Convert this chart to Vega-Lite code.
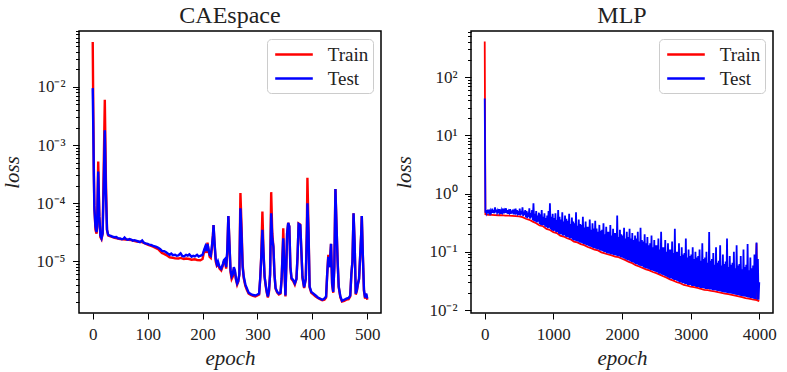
{
  "$schema": "https://vega.github.io/schema/vega-lite/v6.json",
  "background": "white",
  "padding": {"left": 0, "top": 2, "right": 2, "bottom": 2},
  "config": {
    "font": "Liberation Serif",
    "view": {"stroke": "black", "strokeWidth": 1.5},
    "axis": {
      "domain": false, "grid": false, "tickColor": "black", "tickWidth": 1,
      "labelColor": "#222222", "labelFont": "Liberation Serif", "labelFontSize": 17,
      "titleFont": "Liberation Serif", "titleFontStyle": "italic", "titleFontWeight": "normal",
      "titleFontSize": 21, "titleColor": "#222222"
    },
    "axisY": {"labelPadding": 7.5, "titlePadding": 14},
    "axisX": {"labelPadding": 7, "titlePadding": 5, "format": "d"},
    "title": {"font": "Liberation Serif", "fontSize": 24, "fontWeight": "normal", "color": "#222222", "offset": 3},
    "legend": {
      "orient": "top-right", "offset": 8, "title": null,
      "symbolType": "M-0.73,0H3.03", "symbolSize": 400, "symbolStrokeWidth": 2.5,
      "labelFont": "Liberation Serif", "labelFontSize": 19, "labelColor": "#222222", "labelOffset": 33.7,
      "padding": 4, "rowPadding": 2, "strokeColor": "#cccccc", "cornerRadius": 4, "fillColor": "white"
    },
    "concat": {"spacing": 11}
  },
  "datasets": {
    "cae_train": [
      {"epoch":0,"loss":0.059},{"epoch":1,"loss":0.004},{"epoch":2,"loss":0.0004},{"epoch":3,"loss":9e-5},{"epoch":5,"loss":3.5e-5},{"epoch":7,"loss":3e-5},{"epoch":8,"loss":4e-5},{"epoch":10,"loss":5.2e-4},{"epoch":12,"loss":6e-5},{"epoch":14,"loss":2.6e-5},{"epoch":16,"loss":2.4e-5},{"epoch":18,"loss":3e-5},{"epoch":20,"loss":4e-4},{"epoch":22,"loss":6e-3},{"epoch":24,"loss":2.5e-4},{"epoch":26,"loss":3.5e-5},{"epoch":28,"loss":2.8e-5},{"epoch":30,"loss":2.75e-5},{"epoch":40,"loss":2.55e-5},{"epoch":50,"loss":2.42e-5},{"epoch":60,"loss":2.38e-5},{"epoch":70,"loss":2.32e-5},{"epoch":80,"loss":2.2e-5},{"epoch":90,"loss":2.15e-5},{"epoch":100,"loss":1.95e-5},{"epoch":110,"loss":1.8e-5},{"epoch":120,"loss":1.6e-5},{"epoch":126,"loss":1.4e-5},{"epoch":130,"loss":1.35e-5},{"epoch":136,"loss":1.25e-5},{"epoch":140,"loss":1.18e-5},{"epoch":146,"loss":1.15e-5},{"epoch":150,"loss":1.13e-5},{"epoch":156,"loss":1.12e-5},{"epoch":160,"loss":1.15e-5},{"epoch":166,"loss":1.1e-5},{"epoch":170,"loss":1.12e-5},{"epoch":176,"loss":1.1e-5},{"epoch":180,"loss":1.07e-5},{"epoch":186,"loss":1.09e-5},{"epoch":190,"loss":1.06e-5},{"epoch":196,"loss":1.05e-5},{"epoch":200,"loss":1.1e-5},{"epoch":203,"loss":1.5e-5},{"epoch":205,"loss":1.7e-5},{"epoch":207,"loss":1.4e-5},{"epoch":209,"loss":2.1e-5},{"epoch":211,"loss":1.5e-5},{"epoch":213,"loss":1.2e-5},{"epoch":215,"loss":1.15e-5},{"epoch":217,"loss":1.7e-5},{"epoch":219,"loss":2.9e-5},{"epoch":220,"loss":4.2e-5},{"epoch":222,"loss":1.9e-5},{"epoch":224,"loss":1e-5},{"epoch":226,"loss":8.5e-6},{"epoch":228,"loss":9e-6},{"epoch":231,"loss":7.5e-6},{"epoch":234,"loss":7e-6},{"epoch":237,"loss":8.5e-6},{"epoch":239,"loss":1e-5},{"epoch":241,"loss":1.05e-5},{"epoch":243,"loss":7.5e-6},{"epoch":245,"loss":1.4e-5},{"epoch":247,"loss":6e-5},{"epoch":249,"loss":2e-5},{"epoch":251,"loss":6.5e-6},{"epoch":253,"loss":5e-6},{"epoch":255,"loss":5.5e-6},{"epoch":257,"loss":7.5e-6},{"epoch":259,"loss":6.5e-6},{"epoch":261,"loss":4.8e-6},{"epoch":263,"loss":4e-6},{"epoch":265,"loss":4.5e-6},{"epoch":267,"loss":6e-6},{"epoch":269,"loss":1.5e-4},{"epoch":271,"loss":4e-5},{"epoch":273,"loss":9e-6},{"epoch":275,"loss":5.2e-6},{"epoch":278,"loss":3.8e-6},{"epoch":281,"loss":3.2e-6},{"epoch":284,"loss":2.8e-6},{"epoch":288,"loss":2.65e-6},{"epoch":292,"loss":2.55e-6},{"epoch":296,"loss":2.5e-6},{"epoch":300,"loss":2.6e-6},{"epoch":303,"loss":2.7e-6},{"epoch":305,"loss":5e-6},{"epoch":307,"loss":1.3e-5},{"epoch":309,"loss":7.2e-5},{"epoch":311,"loss":1.5e-5},{"epoch":313,"loss":5.5e-6},{"epoch":315,"loss":3.8e-6},{"epoch":317,"loss":2.9e-6},{"epoch":319,"loss":2.4e-6},{"epoch":321,"loss":3e-6},{"epoch":323,"loss":6e-6},{"epoch":325,"loss":1.55e-4},{"epoch":327,"loss":3e-5},{"epoch":329,"loss":1.8e-5},{"epoch":331,"loss":6e-6},{"epoch":333,"loss":3.4e-6},{"epoch":336,"loss":2.9e-6},{"epoch":339,"loss":2.7e-6},{"epoch":342,"loss":2.8e-6},{"epoch":344,"loss":5e-6},{"epoch":346,"loss":1.6e-5},{"epoch":347,"loss":3.7e-5},{"epoch":349,"loss":8e-6},{"epoch":351,"loss":2.5e-6},{"epoch":353,"loss":1.2e-5},{"epoch":354,"loss":3e-5},{"epoch":356,"loss":4.6e-5},{"epoch":358,"loss":4e-5},{"epoch":360,"loss":8e-6},{"epoch":362,"loss":5e-6},{"epoch":365,"loss":4.6e-6},{"epoch":368,"loss":4e-6},{"epoch":371,"loss":5e-6},{"epoch":373,"loss":1.2e-5},{"epoch":375,"loss":4.5e-5},{"epoch":378,"loss":4.3e-5},{"epoch":380,"loss":1.5e-5},{"epoch":382,"loss":5.2e-6},{"epoch":385,"loss":3.5e-6},{"epoch":388,"loss":5e-6},{"epoch":390,"loss":4e-5},{"epoch":391,"loss":2.75e-4},{"epoch":393,"loss":3.5e-5},{"epoch":395,"loss":3.6e-6},{"epoch":398,"loss":2.9e-6},{"epoch":402,"loss":2.7e-6},{"epoch":406,"loss":2.5e-6},{"epoch":410,"loss":2.35e-6},{"epoch":414,"loss":2.25e-6},{"epoch":418,"loss":2.15e-6},{"epoch":422,"loss":2.2e-6},{"epoch":425,"loss":2.4e-6},{"epoch":427,"loss":6e-6},{"epoch":429,"loss":1.3e-5},{"epoch":431,"loss":8e-6},{"epoch":433,"loss":1.4e-5},{"epoch":434,"loss":2e-5},{"epoch":436,"loss":4e-6},{"epoch":438,"loss":2.9e-6},{"epoch":440,"loss":8e-6},{"epoch":442,"loss":1.75e-4},{"epoch":444,"loss":4e-5},{"epoch":446,"loss":1e-5},{"epoch":448,"loss":3.6e-6},{"epoch":451,"loss":2.4e-6},{"epoch":454,"loss":2.05e-6},{"epoch":458,"loss":2.1e-6},{"epoch":462,"loss":2.2e-6},{"epoch":466,"loss":2.25e-6},{"epoch":469,"loss":2.5e-6},{"epoch":471,"loss":6e-6},{"epoch":473,"loss":1e-5},{"epoch":475,"loss":6.7e-5},{"epoch":477,"loss":2e-5},{"epoch":479,"loss":2.7e-6},{"epoch":481,"loss":3.1e-6},{"epoch":483,"loss":4e-6},{"epoch":485,"loss":5e-6},{"epoch":487,"loss":1.2e-5},{"epoch":489,"loss":3e-5},{"epoch":490,"loss":6e-5},{"epoch":492,"loss":1.2e-5},{"epoch":494,"loss":3.1e-6},{"epoch":496,"loss":2.3e-6},{"epoch":498,"loss":2.7e-6},{"epoch":500,"loss":2.2e-6}
    ],
    "cae_test": [
      {"epoch":0,"loss":0.0095},{"epoch":1,"loss":0.002},{"epoch":2,"loss":0.0003},{"epoch":3,"loss":8e-5},{"epoch":5,"loss":4e-5},{"epoch":7,"loss":3.2e-5},{"epoch":8,"loss":4e-5},{"epoch":10,"loss":3.5e-4},{"epoch":12,"loss":6e-5},{"epoch":14,"loss":2.8e-5},{"epoch":16,"loss":2.5e-5},{"epoch":18,"loss":3e-5},{"epoch":20,"loss":2e-4},{"epoch":22,"loss":1.8e-3},{"epoch":24,"loss":1.5e-4},{"epoch":26,"loss":3.5e-5},{"epoch":28,"loss":2.9e-5},{"epoch":30,"loss":2.8e-5},{"epoch":33,"loss":2.75e-5},{"epoch":36,"loss":2.65e-5},{"epoch":40,"loss":2.6e-5},{"epoch":43,"loss":2.62e-5},{"epoch":46,"loss":2.5e-5},{"epoch":50,"loss":2.48e-5},{"epoch":53,"loss":2.4e-5},{"epoch":56,"loss":2.45e-5},{"epoch":58,"loss":2.58e-5},{"epoch":61,"loss":2.4e-5},{"epoch":64,"loss":2.35e-5},{"epoch":67,"loss":2.42e-5},{"epoch":70,"loss":2.38e-5},{"epoch":73,"loss":2.28e-5},{"epoch":76,"loss":2.32e-5},{"epoch":80,"loss":2.25e-5},{"epoch":83,"loss":2.2e-5},{"epoch":86,"loss":2.15e-5},{"epoch":90,"loss":2.3e-5},{"epoch":93,"loss":2.1e-5},{"epoch":96,"loss":2.05e-5},{"epoch":100,"loss":2.0e-5},{"epoch":103,"loss":1.95e-5},{"epoch":106,"loss":1.92e-5},{"epoch":110,"loss":1.85e-5},{"epoch":113,"loss":1.82e-5},{"epoch":116,"loss":1.78e-5},{"epoch":120,"loss":1.7e-5},{"epoch":123,"loss":1.62e-5},{"epoch":126,"loss":1.52e-5},{"epoch":130,"loss":1.5e-5},{"epoch":133,"loss":1.45e-5},{"epoch":136,"loss":1.38e-5},{"epoch":140,"loss":1.3e-5},{"epoch":143,"loss":1.36e-5},{"epoch":146,"loss":1.28e-5},{"epoch":150,"loss":1.3e-5},{"epoch":153,"loss":1.25e-5},{"epoch":156,"loss":1.27e-5},{"epoch":160,"loss":1.38e-5},{"epoch":163,"loss":1.24e-5},{"epoch":166,"loss":1.22e-5},{"epoch":170,"loss":1.3e-5},{"epoch":173,"loss":1.26e-5},{"epoch":176,"loss":1.32e-5},{"epoch":180,"loss":1.2e-5},{"epoch":183,"loss":1.25e-5},{"epoch":186,"loss":1.22e-5},{"epoch":190,"loss":1.3e-5},{"epoch":193,"loss":1.21e-5},{"epoch":196,"loss":1.25e-5},{"epoch":200,"loss":1.3e-5},{"epoch":203,"loss":1.6e-5},{"epoch":205,"loss":1.8e-5},{"epoch":207,"loss":1.5e-5},{"epoch":209,"loss":2e-5},{"epoch":211,"loss":1.6e-5},{"epoch":213,"loss":1.3e-5},{"epoch":215,"loss":1.25e-5},{"epoch":217,"loss":1.8e-5},{"epoch":219,"loss":2.8e-5},{"epoch":220,"loss":4.2e-5},{"epoch":222,"loss":2e-5},{"epoch":224,"loss":1.1e-5},{"epoch":226,"loss":9e-6},{"epoch":228,"loss":1e-5},{"epoch":231,"loss":8e-6},{"epoch":234,"loss":7.5e-6},{"epoch":237,"loss":9e-6},{"epoch":239,"loss":1.05e-5},{"epoch":241,"loss":1.1e-5},{"epoch":243,"loss":8e-6},{"epoch":245,"loss":1.5e-5},{"epoch":247,"loss":6e-5},{"epoch":249,"loss":2e-5},{"epoch":251,"loss":7e-6},{"epoch":253,"loss":5.5e-6},{"epoch":255,"loss":6e-6},{"epoch":257,"loss":8e-6},{"epoch":259,"loss":7e-6},{"epoch":261,"loss":5e-6},{"epoch":263,"loss":4.2e-6},{"epoch":265,"loss":4.6e-6},{"epoch":267,"loss":6e-6},{"epoch":269,"loss":8.2e-5},{"epoch":271,"loss":3e-5},{"epoch":273,"loss":8e-6},{"epoch":275,"loss":5.5e-6},{"epoch":278,"loss":4e-6},{"epoch":281,"loss":3.4e-6},{"epoch":284,"loss":2.9e-6},{"epoch":288,"loss":2.75e-6},{"epoch":292,"loss":2.65e-6},{"epoch":296,"loss":2.6e-6},{"epoch":300,"loss":2.7e-6},{"epoch":303,"loss":2.8e-6},{"epoch":305,"loss":5e-6},{"epoch":307,"loss":1.2e-5},{"epoch":309,"loss":3.5e-5},{"epoch":311,"loss":1.4e-5},{"epoch":313,"loss":5.5e-6},{"epoch":315,"loss":4e-6},{"epoch":317,"loss":3e-6},{"epoch":319,"loss":2.5e-6},{"epoch":321,"loss":3.2e-6},{"epoch":323,"loss":6e-6},{"epoch":325,"loss":6.7e-5},{"epoch":327,"loss":2.5e-5},{"epoch":329,"loss":1.8e-5},{"epoch":331,"loss":6e-6},{"epoch":333,"loss":3.5e-6},{"epoch":336,"loss":3e-6},{"epoch":339,"loss":2.8e-6},{"epoch":342,"loss":2.9e-6},{"epoch":344,"loss":5e-6},{"epoch":346,"loss":1.5e-5},{"epoch":347,"loss":2.5e-5},{"epoch":349,"loss":8e-6},{"epoch":351,"loss":2.6e-6},{"epoch":353,"loss":1.2e-5},{"epoch":354,"loss":3e-5},{"epoch":356,"loss":4.6e-5},{"epoch":358,"loss":4e-5},{"epoch":360,"loss":8e-6},{"epoch":362,"loss":5.2e-6},{"epoch":365,"loss":4.8e-6},{"epoch":368,"loss":4.2e-6},{"epoch":371,"loss":5e-6},{"epoch":373,"loss":1.2e-5},{"epoch":375,"loss":4.4e-5},{"epoch":378,"loss":4.2e-5},{"epoch":380,"loss":1.5e-5},{"epoch":382,"loss":5.4e-6},{"epoch":385,"loss":3.6e-6},{"epoch":388,"loss":5e-6},{"epoch":390,"loss":3e-5},{"epoch":391,"loss":1e-4},{"epoch":393,"loss":3e-5},{"epoch":395,"loss":3.7e-6},{"epoch":398,"loss":3e-6},{"epoch":402,"loss":2.8e-6},{"epoch":406,"loss":2.6e-6},{"epoch":410,"loss":2.4e-6},{"epoch":414,"loss":2.3e-6},{"epoch":418,"loss":2.2e-6},{"epoch":422,"loss":2.3e-6},{"epoch":425,"loss":2.5e-6},{"epoch":427,"loss":6e-6},{"epoch":429,"loss":1.2e-5},{"epoch":431,"loss":8e-6},{"epoch":433,"loss":1.4e-5},{"epoch":434,"loss":2e-5},{"epoch":436,"loss":4.2e-6},{"epoch":438,"loss":3e-6},{"epoch":440,"loss":8e-6},{"epoch":442,"loss":1.75e-4},{"epoch":444,"loss":4e-5},{"epoch":446,"loss":1e-5},{"epoch":448,"loss":3.7e-6},{"epoch":451,"loss":2.5e-6},{"epoch":454,"loss":2.1e-6},{"epoch":458,"loss":2.2e-6},{"epoch":462,"loss":2.3e-6},{"epoch":466,"loss":2.35e-6},{"epoch":469,"loss":2.6e-6},{"epoch":471,"loss":6e-6},{"epoch":473,"loss":1e-5},{"epoch":475,"loss":6.7e-5},{"epoch":477,"loss":2e-5},{"epoch":479,"loss":2.8e-6},{"epoch":481,"loss":3.2e-6},{"epoch":483,"loss":4.2e-6},{"epoch":485,"loss":5e-6},{"epoch":487,"loss":1.2e-5},{"epoch":489,"loss":3e-5},{"epoch":490,"loss":6e-5},{"epoch":492,"loss":1.2e-5},{"epoch":494,"loss":3.2e-6},{"epoch":496,"loss":2.4e-6},{"epoch":498,"loss":2.8e-6},{"epoch":500,"loss":2.3e-6}
    ],
    "mlp_train": [
      {"epoch":0,"loss":410},{"epoch":10,"loss":0.44},{"epoch":50,"loss":0.43},{"epoch":100,"loss":0.432},{"epoch":150,"loss":0.428},{"epoch":200,"loss":0.425},{"epoch":250,"loss":0.427},{"epoch":300,"loss":0.42},{"epoch":350,"loss":0.418},{"epoch":400,"loss":0.415},{"epoch":450,"loss":0.41},{"epoch":500,"loss":0.405},{"epoch":550,"loss":0.395},{"epoch":600,"loss":0.37},{"epoch":650,"loss":0.355},{"epoch":700,"loss":0.33},{"epoch":750,"loss":0.31},{"epoch":800,"loss":0.283},{"epoch":850,"loss":0.275},{"epoch":900,"loss":0.248},{"epoch":950,"loss":0.237},{"epoch":1000,"loss":0.218},{"epoch":1050,"loss":0.21},{"epoch":1100,"loss":0.19},{"epoch":1150,"loss":0.183},{"epoch":1200,"loss":0.171},{"epoch":1250,"loss":0.164},{"epoch":1300,"loss":0.15},{"epoch":1350,"loss":0.145},{"epoch":1400,"loss":0.136},{"epoch":1450,"loss":0.13},{"epoch":1500,"loss":0.121},{"epoch":1550,"loss":0.116},{"epoch":1600,"loss":0.109},{"epoch":1650,"loss":0.106},{"epoch":1700,"loss":0.098},{"epoch":1750,"loss":0.094},{"epoch":1800,"loss":0.09},{"epoch":1850,"loss":0.087},{"epoch":1900,"loss":0.083},{"epoch":1950,"loss":0.081},{"epoch":2000,"loss":0.076},{"epoch":2050,"loss":0.072},{"epoch":2100,"loss":0.067},{"epoch":2150,"loss":0.064},{"epoch":2200,"loss":0.059},{"epoch":2250,"loss":0.056},{"epoch":2300,"loss":0.053},{"epoch":2350,"loss":0.05},{"epoch":2400,"loss":0.048},{"epoch":2450,"loss":0.045},{"epoch":2500,"loss":0.043},{"epoch":2550,"loss":0.0405},{"epoch":2600,"loss":0.038},{"epoch":2650,"loss":0.036},{"epoch":2700,"loss":0.0337},{"epoch":2750,"loss":0.032},{"epoch":2800,"loss":0.03},{"epoch":2850,"loss":0.029},{"epoch":2900,"loss":0.027},{"epoch":2950,"loss":0.0262},{"epoch":3000,"loss":0.0252},{"epoch":3050,"loss":0.0248},{"epoch":3100,"loss":0.024},{"epoch":3150,"loss":0.0232},{"epoch":3200,"loss":0.0223},{"epoch":3250,"loss":0.0219},{"epoch":3300,"loss":0.0213},{"epoch":3350,"loss":0.021},{"epoch":3400,"loss":0.0203},{"epoch":3450,"loss":0.0198},{"epoch":3500,"loss":0.0192},{"epoch":3550,"loss":0.0187},{"epoch":3600,"loss":0.0182},{"epoch":3650,"loss":0.0177},{"epoch":3700,"loss":0.0171},{"epoch":3750,"loss":0.0167},{"epoch":3800,"loss":0.0161},{"epoch":3850,"loss":0.0157},{"epoch":3900,"loss":0.0152},{"epoch":3950,"loss":0.0149},{"epoch":3960,"loss":0.14},{"epoch":3970,"loss":0.0147},{"epoch":4000,"loss":0.0142}
    ],
    "mlp_test": [
      {"epoch":0,"loss":43},
      {"epoch":10,"loss":0.47},{"epoch":20,"loss":0.52},{"epoch":30,"loss":0.46},{"epoch":40,"loss":0.5},{"epoch":50,"loss":0.48},{"epoch":60,"loss":0.53},{"epoch":70,"loss":0.47},{"epoch":80,"loss":0.51},{"epoch":90,"loss":0.46},
      {"epoch":100,"loss":0.49},{"epoch":110,"loss":0.55},{"epoch":120,"loss":0.47},{"epoch":130,"loss":0.52},{"epoch":140,"loss":0.46},{"epoch":150,"loss":0.58},{"epoch":160,"loss":0.48},{"epoch":170,"loss":0.53},{"epoch":180,"loss":0.47},{"epoch":190,"loss":0.51},
      {"epoch":200,"loss":0.46},{"epoch":210,"loss":0.54},{"epoch":220,"loss":0.47},{"epoch":230,"loss":0.5},{"epoch":240,"loss":0.45},{"epoch":250,"loss":0.52},{"epoch":260,"loss":0.48},{"epoch":270,"loss":0.55},{"epoch":280,"loss":0.46},{"epoch":290,"loss":0.51},
      {"epoch":300,"loss":0.47},{"epoch":310,"loss":0.56},{"epoch":320,"loss":0.46},{"epoch":330,"loss":0.52},{"epoch":340,"loss":0.45},{"epoch":350,"loss":0.5},{"epoch":360,"loss":0.47},{"epoch":370,"loss":0.54},{"epoch":380,"loss":0.45},{"epoch":390,"loss":0.51},
      {"epoch":400,"loss":0.46},{"epoch":410,"loss":0.53},{"epoch":420,"loss":0.44},{"epoch":430,"loss":0.5},{"epoch":440,"loss":0.47},{"epoch":450,"loss":0.55},{"epoch":460,"loss":0.44},{"epoch":470,"loss":0.52},{"epoch":480,"loss":0.46},{"epoch":490,"loss":0.5},
      {"epoch":500,"loss":0.43},{"epoch":510,"loss":0.55},{"epoch":520,"loss":0.42},{"epoch":530,"loss":0.5},{"epoch":540,"loss":0.44},{"epoch":550,"loss":0.58},{"epoch":560,"loss":0.41},{"epoch":570,"loss":0.49},{"epoch":580,"loss":0.43},{"epoch":590,"loss":0.52},
      {"epoch":600,"loss":0.39},{"epoch":610,"loss":0.5},{"epoch":620,"loss":0.38},{"epoch":630,"loss":0.47},{"epoch":640,"loss":0.4},{"epoch":650,"loss":0.56},{"epoch":660,"loss":0.37},{"epoch":670,"loss":0.46},{"epoch":680,"loss":0.39},{"epoch":690,"loss":0.52},
      {"epoch":700,"loss":0.35},{"epoch":710,"loss":0.68},{"epoch":720,"loss":0.34},{"epoch":730,"loss":0.45},{"epoch":740,"loss":0.33},{"epoch":750,"loss":0.5},{"epoch":760,"loss":0.32},{"epoch":770,"loss":0.42},{"epoch":780,"loss":0.33},{"epoch":790,"loss":0.47},
      {"epoch":800,"loss":0.3},{"epoch":810,"loss":0.44},{"epoch":820,"loss":0.29},{"epoch":830,"loss":0.52},{"epoch":840,"loss":0.285},{"epoch":850,"loss":0.4},{"epoch":860,"loss":0.29},{"epoch":870,"loss":0.46},{"epoch":880,"loss":0.27},{"epoch":890,"loss":0.38},
      {"epoch":900,"loss":0.265},{"epoch":910,"loss":0.42},{"epoch":920,"loss":0.255},{"epoch":930,"loss":0.5},{"epoch":940,"loss":0.26},{"epoch":950,"loss":0.68},{"epoch":960,"loss":0.245},{"epoch":970,"loss":0.4},{"epoch":980,"loss":0.235},{"epoch":990,"loss":0.45},
      {"epoch":1000,"loss":0.228},{"epoch":1010,"loss":0.38},{"epoch":1020,"loss":0.23},{"epoch":1030,"loss":0.46},{"epoch":1040,"loss":0.218},{"epoch":1050,"loss":0.35},{"epoch":1060,"loss":0.22},{"epoch":1070,"loss":0.52},{"epoch":1080,"loss":0.205},{"epoch":1090,"loss":0.4},
      {"epoch":1100,"loss":0.2},{"epoch":1110,"loss":0.36},{"epoch":1120,"loss":0.198},{"epoch":1130,"loss":0.48},{"epoch":1140,"loss":0.19},{"epoch":1150,"loss":0.33},{"epoch":1160,"loss":0.192},{"epoch":1170,"loss":0.42},{"epoch":1180,"loss":0.182},{"epoch":1190,"loss":0.37},
      {"epoch":1200,"loss":0.18},{"epoch":1210,"loss":0.34},{"epoch":1220,"loss":0.177},{"epoch":1230,"loss":0.45},{"epoch":1240,"loss":0.17},{"epoch":1250,"loss":0.3},{"epoch":1260,"loss":0.172},{"epoch":1270,"loss":0.39},{"epoch":1280,"loss":0.162},{"epoch":1290,"loss":0.33},
      {"epoch":1300,"loss":0.158},{"epoch":1310,"loss":0.31},{"epoch":1320,"loss":0.155},{"epoch":1330,"loss":0.48},{"epoch":1340,"loss":0.152},{"epoch":1350,"loss":0.28},{"epoch":1360,"loss":0.15},{"epoch":1370,"loss":0.36},{"epoch":1380,"loss":0.145},{"epoch":1390,"loss":0.3},
      {"epoch":1400,"loss":0.143},{"epoch":1410,"loss":0.29},{"epoch":1420,"loss":0.14},{"epoch":1430,"loss":0.4},{"epoch":1440,"loss":0.136},{"epoch":1450,"loss":0.26},{"epoch":1460,"loss":0.135},{"epoch":1470,"loss":0.33},{"epoch":1480,"loss":0.13},{"epoch":1490,"loss":0.27},
      {"epoch":1500,"loss":0.128},{"epoch":1510,"loss":0.27},{"epoch":1520,"loss":0.125},{"epoch":1530,"loss":0.36},{"epoch":1540,"loss":0.122},{"epoch":1550,"loss":0.24},{"epoch":1560,"loss":0.121},{"epoch":1570,"loss":0.31},{"epoch":1580,"loss":0.116},{"epoch":1590,"loss":0.25},
      {"epoch":1600,"loss":0.115},{"epoch":1610,"loss":0.34},{"epoch":1620,"loss":0.113},{"epoch":1630,"loss":0.25},{"epoch":1640,"loss":0.11},{"epoch":1650,"loss":0.22},{"epoch":1660,"loss":0.11},{"epoch":1670,"loss":0.29},{"epoch":1680,"loss":0.106},{"epoch":1690,"loss":0.23},
      {"epoch":1700,"loss":0.104},{"epoch":1710,"loss":0.24},{"epoch":1720,"loss":0.102},{"epoch":1730,"loss":0.31},{"epoch":1740,"loss":0.099},{"epoch":1750,"loss":0.2},{"epoch":1760,"loss":0.098},{"epoch":1770,"loss":0.27},{"epoch":1780,"loss":0.095},{"epoch":1790,"loss":0.22},
      {"epoch":1800,"loss":0.094},{"epoch":1810,"loss":0.22},{"epoch":1820,"loss":0.093},{"epoch":1830,"loss":0.29},{"epoch":1840,"loss":0.091},{"epoch":1850,"loss":0.19},{"epoch":1860,"loss":0.09},{"epoch":1870,"loss":0.25},{"epoch":1880,"loss":0.088},{"epoch":1890,"loss":0.21},
      {"epoch":1900,"loss":0.087},{"epoch":1910,"loss":0.21},{"epoch":1920,"loss":0.086},{"epoch":1930,"loss":0.42},{"epoch":1940,"loss":0.084},{"epoch":1950,"loss":0.18},{"epoch":1960,"loss":0.084},{"epoch":1970,"loss":0.24},{"epoch":1980,"loss":0.081},{"epoch":1990,"loss":0.2},
      {"epoch":2000,"loss":0.08},{"epoch":2010,"loss":0.19},{"epoch":2020,"loss":0.078},{"epoch":2030,"loss":0.26},{"epoch":2040,"loss":0.076},{"epoch":2050,"loss":0.17},{"epoch":2060,"loss":0.074},{"epoch":2070,"loss":0.22},{"epoch":2080,"loss":0.072},{"epoch":2090,"loss":0.18},
      {"epoch":2100,"loss":0.071},{"epoch":2110,"loss":0.25},{"epoch":2120,"loss":0.069},{"epoch":2130,"loss":0.17},{"epoch":2140,"loss":0.067},{"epoch":2150,"loss":0.21},{"epoch":2160,"loss":0.066},{"epoch":2170,"loss":0.16},{"epoch":2180,"loss":0.064},{"epoch":2190,"loss":0.19},
      {"epoch":2200,"loss":0.062},{"epoch":2210,"loss":0.17},{"epoch":2220,"loss":0.061},{"epoch":2230,"loss":0.22},{"epoch":2240,"loss":0.059},{"epoch":2250,"loss":0.15},{"epoch":2260,"loss":0.058},{"epoch":2270,"loss":0.26},{"epoch":2280,"loss":0.057},{"epoch":2290,"loss":0.16},
      {"epoch":2300,"loss":0.056},{"epoch":2310,"loss":0.15},{"epoch":2320,"loss":0.054},{"epoch":2330,"loss":0.2},{"epoch":2340,"loss":0.053},{"epoch":2350,"loss":0.14},{"epoch":2360,"loss":0.052},{"epoch":2370,"loss":0.18},{"epoch":2380,"loss":0.051},{"epoch":2390,"loss":0.13},
      {"epoch":2400,"loss":0.05},{"epoch":2410,"loss":0.14},{"epoch":2420,"loss":0.049},{"epoch":2430,"loss":0.19},{"epoch":2440,"loss":0.048},{"epoch":2450,"loss":0.12},{"epoch":2460,"loss":0.047},{"epoch":2470,"loss":0.16},{"epoch":2480,"loss":0.046},{"epoch":2490,"loss":0.13},
      {"epoch":2500,"loss":0.045},{"epoch":2510,"loss":0.13},{"epoch":2520,"loss":0.044},{"epoch":2530,"loss":0.17},{"epoch":2540,"loss":0.042},{"epoch":2550,"loss":0.11},{"epoch":2560,"loss":0.042},{"epoch":2570,"loss":0.22},{"epoch":2580,"loss":0.041},{"epoch":2590,"loss":0.12},
      {"epoch":2600,"loss":0.04},{"epoch":2610,"loss":0.12},{"epoch":2620,"loss":0.039},{"epoch":2630,"loss":0.16},{"epoch":2640,"loss":0.038},{"epoch":2650,"loss":0.1},{"epoch":2660,"loss":0.037},{"epoch":2670,"loss":0.14},{"epoch":2680,"loss":0.036},{"epoch":2690,"loss":0.11},
      {"epoch":2700,"loss":0.035},{"epoch":2710,"loss":0.11},{"epoch":2720,"loss":0.035},{"epoch":2730,"loss":0.15},{"epoch":2740,"loss":0.034},{"epoch":2750,"loss":0.095},{"epoch":2760,"loss":0.033},{"epoch":2770,"loss":0.25},{"epoch":2780,"loss":0.033},{"epoch":2790,"loss":0.1},
      {"epoch":2800,"loss":0.032},{"epoch":2810,"loss":0.1},{"epoch":2820,"loss":0.031},{"epoch":2830,"loss":0.14},{"epoch":2840,"loss":0.03},{"epoch":2850,"loss":0.085},{"epoch":2860,"loss":0.03},{"epoch":2870,"loss":0.12},{"epoch":2880,"loss":0.029},{"epoch":2890,"loss":0.09},
      {"epoch":2900,"loss":0.029},{"epoch":2910,"loss":0.095},{"epoch":2920,"loss":0.028},{"epoch":2930,"loss":0.17},{"epoch":2940,"loss":0.028},{"epoch":2950,"loss":0.08},{"epoch":2960,"loss":0.027},{"epoch":2970,"loss":0.11},{"epoch":2980,"loss":0.027},{"epoch":2990,"loss":0.085},
      {"epoch":3000,"loss":0.027},{"epoch":3010,"loss":0.09},{"epoch":3020,"loss":0.026},{"epoch":3030,"loss":0.12},{"epoch":3040,"loss":0.026},{"epoch":3050,"loss":0.075},{"epoch":3060,"loss":0.026},{"epoch":3070,"loss":0.1},{"epoch":3080,"loss":0.025},{"epoch":3090,"loss":0.08},
      {"epoch":3100,"loss":0.025},{"epoch":3110,"loss":0.085},{"epoch":3120,"loss":0.025},{"epoch":3130,"loss":0.11},{"epoch":3140,"loss":0.024},{"epoch":3150,"loss":0.07},{"epoch":3160,"loss":0.024},{"epoch":3170,"loss":0.14},{"epoch":3180,"loss":0.024},{"epoch":3190,"loss":0.075},
      {"epoch":3200,"loss":0.0235},{"epoch":3210,"loss":0.08},{"epoch":3220,"loss":0.023},{"epoch":3230,"loss":0.1},{"epoch":3240,"loss":0.023},{"epoch":3250,"loss":0.065},{"epoch":3260,"loss":0.023},{"epoch":3270,"loss":0.22},{"epoch":3280,"loss":0.0225},{"epoch":3290,"loss":0.07},
      {"epoch":3300,"loss":0.0225},{"epoch":3310,"loss":0.075},{"epoch":3320,"loss":0.022},{"epoch":3330,"loss":0.095},{"epoch":3340,"loss":0.022},{"epoch":3350,"loss":0.06},{"epoch":3360,"loss":0.022},{"epoch":3370,"loss":0.12},{"epoch":3380,"loss":0.0215},{"epoch":3390,"loss":0.065},
      {"epoch":3400,"loss":0.0213},{"epoch":3410,"loss":0.07},{"epoch":3420,"loss":0.021},{"epoch":3430,"loss":0.13},{"epoch":3440,"loss":0.0208},{"epoch":3450,"loss":0.058},{"epoch":3460,"loss":0.0205},{"epoch":3470,"loss":0.09},{"epoch":3480,"loss":0.0202},{"epoch":3490,"loss":0.062},
      {"epoch":3500,"loss":0.02},{"epoch":3510,"loss":0.068},{"epoch":3520,"loss":0.0198},{"epoch":3530,"loss":0.17},{"epoch":3540,"loss":0.0196},{"epoch":3550,"loss":0.055},{"epoch":3560,"loss":0.0194},{"epoch":3570,"loss":0.085},{"epoch":3580,"loss":0.0192},{"epoch":3590,"loss":0.06},
      {"epoch":3600,"loss":0.019},{"epoch":3610,"loss":0.065},{"epoch":3620,"loss":0.0188},{"epoch":3630,"loss":0.1},{"epoch":3640,"loss":0.0186},{"epoch":3650,"loss":0.052},{"epoch":3660,"loss":0.0184},{"epoch":3670,"loss":0.13},{"epoch":3680,"loss":0.0182},{"epoch":3690,"loss":0.058},
      {"epoch":3700,"loss":0.018},{"epoch":3710,"loss":0.062},{"epoch":3720,"loss":0.0177},{"epoch":3730,"loss":0.085},{"epoch":3740,"loss":0.0175},{"epoch":3750,"loss":0.05},{"epoch":3760,"loss":0.0173},{"epoch":3770,"loss":0.11},{"epoch":3780,"loss":0.0171},{"epoch":3790,"loss":0.055},
      {"epoch":3800,"loss":0.017},{"epoch":3810,"loss":0.06},{"epoch":3820,"loss":0.0167},{"epoch":3830,"loss":0.136},{"epoch":3840,"loss":0.0165},{"epoch":3850,"loss":0.048},{"epoch":3860,"loss":0.0163},{"epoch":3870,"loss":0.08},{"epoch":3880,"loss":0.0161},{"epoch":3890,"loss":0.052},
      {"epoch":3900,"loss":0.016},{"epoch":3910,"loss":0.058},{"epoch":3920,"loss":0.0157},{"epoch":3930,"loss":0.09},{"epoch":3940,"loss":0.0155},{"epoch":3950,"loss":0.06},{"epoch":3960,"loss":0.145},{"epoch":3970,"loss":0.0152},{"epoch":3980,"loss":0.075},{"epoch":3990,"loss":0.015},
      {"epoch":4000,"loss":0.03}
    ]
  },
  "hconcat": [
    {
      "width": 302,
      "height": 282,
      "title": "CAEspace",
      "encoding": {
        "x": {
          "field": "epoch", "type": "quantitative",
          "scale": {"domain": [-25, 525], "nice": false, "zero": false},
          "axis": {"title": "epoch", "values": [0, 100, 200, 300, 400, 500], "tickSize": 6}
        },
        "y": {
          "field": "loss", "type": "quantitative",
          "scale": {"type": "log", "domain": [1.3e-6, 0.091], "nice": false},
          "axis": {
            "title": "loss",
            "values": [2e-6, 3e-6, 4e-6, 5e-6, 6e-6, 7e-6, 8e-6, 9e-6, 1e-5, 2e-5, 3e-5, 4e-5, 5e-5, 6e-5, 7e-5, 8e-5, 9e-5, 1e-4, 2e-4, 3e-4, 4e-4, 5e-4, 6e-4, 7e-4, 8e-4, 9e-4, 1e-3, 2e-3, 3e-3, 4e-3, 5e-3, 6e-3, 7e-3, 8e-3, 9e-3, 1e-2, 2e-2, 3e-2, 4e-2, 5e-2, 6e-2, 7e-2, 8e-2, 9e-2],
            "labelExpr": "datum.value == 0.01 ? '10⁻²' : datum.value == 0.001 ? '10⁻³' : datum.value == 0.0001 ? '10⁻⁴' : datum.value == 0.00001 ? '10⁻⁵' : ''",
            "tickSize": {"condition": {"test": "abs(log(datum.value) / LN10 - round(log(datum.value) / LN10)) < 0.001", "value": 6.5}, "value": 3.5}
          }
        }
      },
      "layer": [
        {
          "data": {"name": "cae_train"},
          "mark": {"type": "line", "strokeWidth": 2.4, "clip": true},
          "encoding": {"color": {"datum": "Train", "type": "nominal", "scale": {"domain": ["Train", "Test"], "range": ["#ff0000", "#0000ff"]}, "legend": {"title": null}}}
        },
        {
          "data": {"name": "cae_test"},
          "mark": {"type": "line", "strokeWidth": 2.4, "clip": true},
          "encoding": {"color": {"datum": "Test", "type": "nominal", "scale": {"domain": ["Train", "Test"], "range": ["#ff0000", "#0000ff"]}, "legend": {"title": null}}}
        }
      ]
    },
    {
      "width": 302,
      "height": 282,
      "title": "MLP",
      "encoding": {
        "x": {
          "field": "epoch", "type": "quantitative",
          "scale": {"domain": [-200, 4200], "nice": false, "zero": false},
          "axis": {"title": "epoch", "values": [0, 1000, 2000, 3000, 4000], "tickSize": 6}
        },
        "y": {
          "field": "loss", "type": "quantitative",
          "scale": {"type": "log", "domain": [0.0089, 620], "nice": false},
          "axis": {
            "title": "loss",
            "values": [0.01, 0.02, 0.03, 0.04, 0.05, 0.06, 0.07, 0.08, 0.09, 0.1, 0.2, 0.3, 0.4, 0.5, 0.6, 0.7, 0.8, 0.9, 1, 2, 3, 4, 5, 6, 7, 8, 9, 10, 20, 30, 40, 50, 60, 70, 80, 90, 100, 200, 300, 400, 500, 600],
            "labelExpr": "datum.value == 0.01 ? '10⁻²' : datum.value == 0.1 ? '10⁻¹' : datum.value == 1 ? '10⁰' : datum.value == 10 ? '10¹' : datum.value == 100 ? '10²' : ''",
            "tickSize": {"condition": {"test": "abs(log(datum.value) / LN10 - round(log(datum.value) / LN10)) < 0.001", "value": 6.5}, "value": 3.5}
          }
        }
      },
      "layer": [
        {
          "data": {"name": "mlp_train"},
          "mark": {"type": "line", "strokeWidth": 1.8, "clip": true},
          "encoding": {"color": {"datum": "Train", "type": "nominal", "scale": {"domain": ["Train", "Test"], "range": ["#ff0000", "#0000ff"]}, "legend": {"title": null}}}
        },
        {
          "data": {"name": "mlp_test"},
          "mark": {"type": "line", "strokeWidth": 1.8, "clip": true},
          "encoding": {"color": {"datum": "Test", "type": "nominal", "scale": {"domain": ["Train", "Test"], "range": ["#ff0000", "#0000ff"]}, "legend": {"title": null}}}
        }
      ]
    }
  ],
  "resolve": {"scale": {"color": "independent"}, "legend": {"color": "independent"}}
}
